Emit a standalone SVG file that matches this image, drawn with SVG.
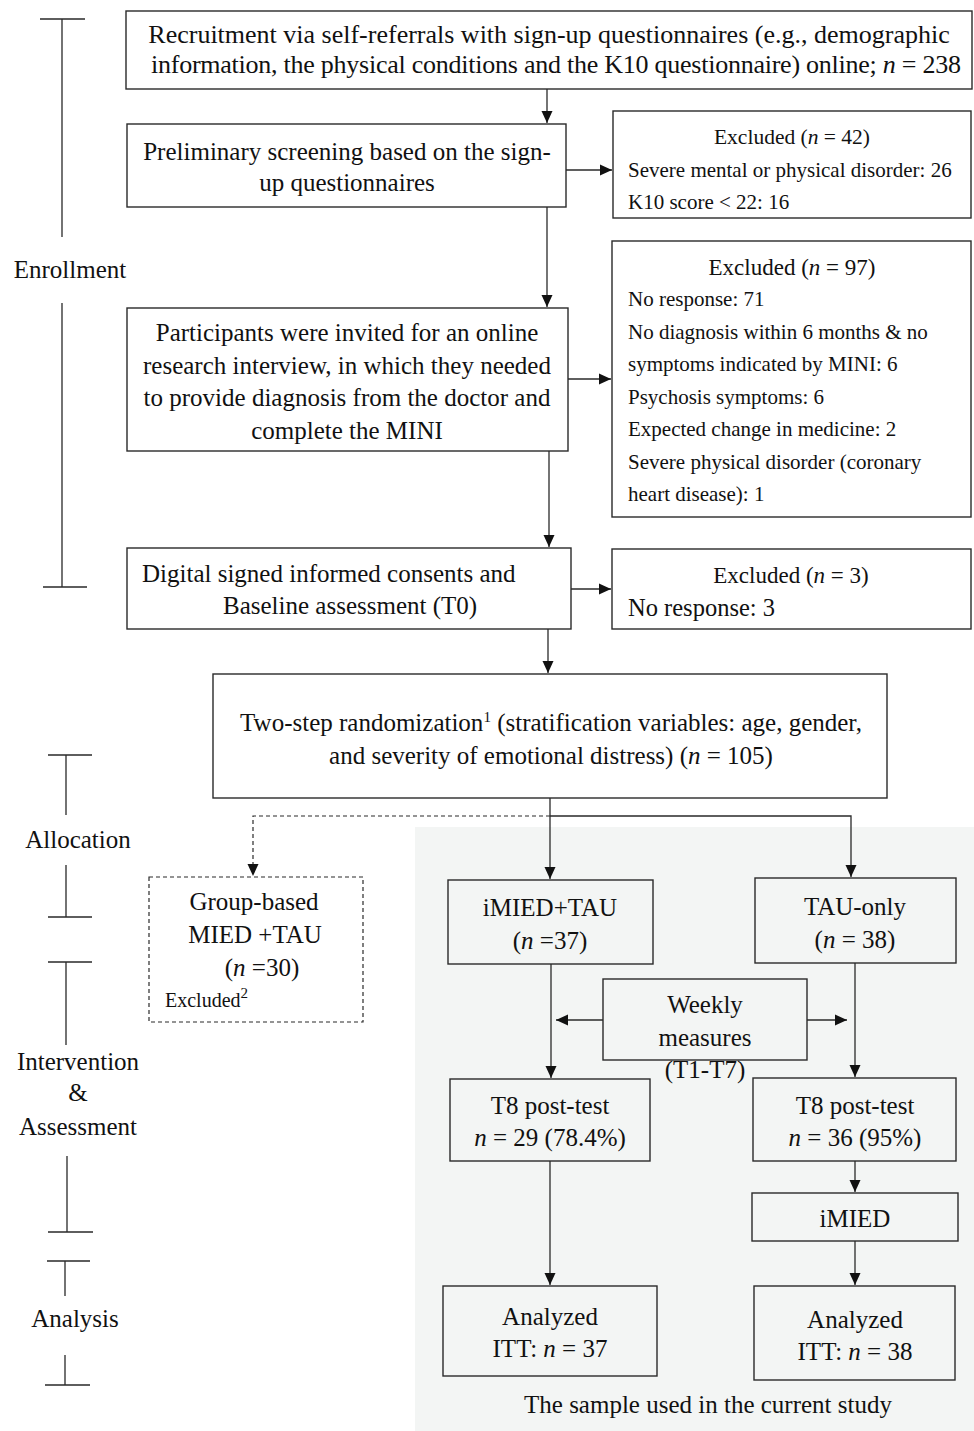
<svg xmlns="http://www.w3.org/2000/svg" width="974" height="1431" viewBox="0 0 974 1431">
<style>
text{font-family:"Liberation Serif","Times New Roman",serif;fill:#111;font-size:25px}
.box{fill:#fff;stroke:#2a2a2a;stroke-width:1.4}
.gbox{fill:none;stroke:#2a2a2a;stroke-width:1.4}
.dbox{fill:#fff;stroke:#2a2a2a;stroke-width:1.2;stroke-dasharray:4 3}
.ln{fill:none;stroke:#2a2a2a;stroke-width:1.3}
.dl{fill:none;stroke:#2a2a2a;stroke-width:1.2;stroke-dasharray:4 3}
.c{text-anchor:middle}
.i{font-style:italic}
.s21{font-size:21px}
</style>
<defs>
<marker id="ah" markerWidth="12" markerHeight="12" refX="12" refY="6" orient="auto" markerUnits="userSpaceOnUse">
<path d="M0,0.5 L12,6 L0,11.5 Z" fill="#111"/>
</marker>
</defs>
<rect x="0" y="0" width="974" height="1431" fill="#fff"/>
<rect x="415" y="827" width="559" height="604" fill="#f3f5f4"/>

<g id="phase-labels">
<path class="ln" d="M40,19 H85 M62,19 V237 M62,303 V587 M43,587 H87"/>
<text class="c" x="70" y="278">Enrollment</text>
<path class="ln" d="M48,755 H92 M66,755 V815 M66,865 V917 M48,917 H92"/>
<text class="c" x="78" y="848">Allocation</text>
<path class="ln" d="M48,962 H92 M66,962 V1045 M67,1156 V1232 M48,1232 H93"/>
<text class="c" x="78" y="1070">Intervention</text>
<text class="c" x="78" y="1101">&amp;</text>
<text class="c" x="78" y="1135">Assessment</text>
<path class="ln" d="M47,1261 H90 M65,1261 V1296 M65,1355 V1385 M45,1385 H90"/>
<text class="c" x="75" y="1327">Analysis</text>
</g>

<g id="connectors">
<path class="ln" d="M547,89 V123" marker-end="url(#ah)"/>
<path class="ln" d="M547,207 V307" marker-end="url(#ah)"/>
<path class="ln" d="M549,451 V547" marker-end="url(#ah)"/>
<path class="ln" d="M548,629 V673" marker-end="url(#ah)"/>
<path class="ln" d="M566,170 H612" marker-end="url(#ah)"/>
<path class="ln" d="M568,379 H611" marker-end="url(#ah)"/>
<path class="ln" d="M571,589 H611" marker-end="url(#ah)"/>
<path class="ln" d="M550,798 V879" marker-end="url(#ah)"/>
<path class="ln" d="M550,816 H851 V877" marker-end="url(#ah)"/>
<path class="dl" d="M550,816 H253 V876" marker-end="url(#ah)"/>
<path class="ln" d="M551,964 V1078" marker-end="url(#ah)"/>
<path class="ln" d="M855,963 V1077" marker-end="url(#ah)"/>
<path class="ln" d="M603,1020 H556" marker-end="url(#ah)"/>
<path class="ln" d="M807,1020 H847" marker-end="url(#ah)"/>
<path class="ln" d="M550,1161 V1285" marker-end="url(#ah)"/>
<path class="ln" d="M855,1161 V1192" marker-end="url(#ah)"/>
<path class="ln" d="M855,1241 V1285" marker-end="url(#ah)"/>
</g>

<g id="recruitment">
<rect class="box" x="126" y="11" width="846" height="78"/>
<text class="c" x="549" y="43" style="font-size:26px">Recruitment via self-referrals with sign-up questionnaires (e.g., demographic</text>
<text class="c" x="556" y="73" style="font-size:26px" textLength="810">information, the physical conditions and the K10 questionnaire) online; <tspan class="i">n</tspan> = 238</text>
</g>

<g id="screening">
<rect class="box" x="127" y="124" width="439" height="83"/>
<text class="c" x="347" y="160">Preliminary screening based on the sign-</text>
<text class="c" x="347" y="191">up questionnaires</text>
</g>

<g id="excluded42">
<rect class="box" x="613" y="111" width="358" height="107"/>
<text class="c" x="792" y="144" style="font-size:21.5px">Excluded (<tspan class="i">n</tspan> = 42)</text>
<text class="s21" x="628" y="177">Severe mental or physical disorder: 26</text>
<text class="s21" x="628" y="209">K10 score &lt; 22: 16</text>
</g>

<g id="interview">
<rect class="box" x="127" y="308" width="441" height="143"/>
<text class="c" x="347" y="341">Participants were invited for an online</text>
<text class="c" x="347" y="374">research interview, in which they needed</text>
<text class="c" x="347" y="406">to provide diagnosis from the doctor and</text>
<text class="c" x="347" y="439">complete the MINI</text>
</g>

<g id="excluded97">
<rect class="box" x="612" y="241" width="359" height="276"/>
<text class="c" x="792" y="275" style="font-size:23px">Excluded (<tspan class="i">n</tspan> = 97)</text>
<text class="s21" x="628" y="306">No response: 71</text>
<text class="s21" x="628" y="339">No diagnosis within 6 months &amp; no</text>
<text class="s21" x="628" y="371">symptoms indicated by MINI: 6</text>
<text class="s21" x="628" y="404">Psychosis symptoms: 6</text>
<text class="s21" x="628" y="436">Expected change in medicine: 2</text>
<text class="s21" x="628" y="469">Severe physical disorder (coronary</text>
<text class="s21" x="628" y="501">heart disease): 1</text>
</g>

<g id="consent">
<rect class="box" x="127" y="548" width="444" height="81"/>
<text x="142" y="582">Digital signed informed consents and</text>
<text x="223" y="614">Baseline assessment (T0)</text>
</g>

<g id="excluded3">
<rect class="box" x="612" y="549" width="359" height="80"/>
<text class="c" x="791" y="583" style="font-size:23px">Excluded (<tspan class="i">n</tspan> = 3)</text>
<text x="628" y="616" style="font-size:24.5px">No response: 3</text>
</g>

<g id="randomization">
<rect class="box" x="213" y="674" width="674" height="124"/>
<text class="c" x="551" y="731">Two-step randomization<tspan dy="-9" style="font-size:15px">1</tspan><tspan dy="9"> (stratification variables: age, gender,</tspan></text>
<text class="c" x="551" y="764">and severity of emotional distress) (<tspan class="i">n</tspan> = 105)</text>
</g>

<g id="group-based">
<rect class="dbox" x="149" y="877" width="214" height="145"/>
<text class="c" x="254" y="910">Group-based</text>
<text class="c" x="255" y="943">MIED +TAU</text>
<text class="c" x="262" y="976">(<tspan class="i">n</tspan> =30)</text>
<text x="165" y="1007" style="font-size:20px">Excluded<tspan dy="-9" style="font-size:15px">2</tspan></text>
</g>

<g id="imied-tau">
<rect class="gbox" x="448" y="880" width="205" height="84"/>
<text class="c" x="550" y="916">iMIED+TAU</text>
<text class="c" x="550" y="949">(<tspan class="i">n</tspan> =37)</text>
</g>

<g id="tau-only">
<rect class="gbox" x="755" y="878" width="201" height="85"/>
<text class="c" x="855" y="915">TAU-only</text>
<text class="c" x="855" y="948">(<tspan class="i">n</tspan> = 38)</text>
</g>

<g id="weekly">
<rect class="gbox" x="603" y="979" width="204" height="81"/>
<text class="c" x="705" y="1013">Weekly</text>
<text class="c" x="705" y="1046">measures</text>
<text class="c" x="705" y="1078">(T1-T7)</text>
</g>

<g id="t8-left">
<rect class="gbox" x="450" y="1079" width="200" height="82"/>
<text class="c" x="550" y="1114">T8 post-test</text>
<text class="c" x="550" y="1146"><tspan class="i">n</tspan> = 29 (78.4%)</text>
</g>

<g id="t8-right">
<rect class="gbox" x="753" y="1078" width="203" height="83"/>
<text class="c" x="855" y="1114">T8 post-test</text>
<text class="c" x="855" y="1146"><tspan class="i">n</tspan> = 36 (95%)</text>
</g>

<g id="imied">
<rect class="gbox" x="752" y="1193" width="206" height="48"/>
<text class="c" x="855" y="1227">iMIED</text>
</g>

<g id="analyzed-left">
<rect class="gbox" x="443" y="1286" width="214" height="90"/>
<text class="c" x="550" y="1325">Analyzed</text>
<text class="c" x="550" y="1357">ITT: <tspan class="i">n</tspan> = 37</text>
</g>

<g id="analyzed-right">
<rect class="gbox" x="754" y="1286" width="201" height="94"/>
<text class="c" x="855" y="1328">Analyzed</text>
<text class="c" x="855" y="1360">ITT: <tspan class="i">n</tspan> = 38</text>
</g>

<text class="c" x="708" y="1413">The sample used in the current study</text>
</svg>
